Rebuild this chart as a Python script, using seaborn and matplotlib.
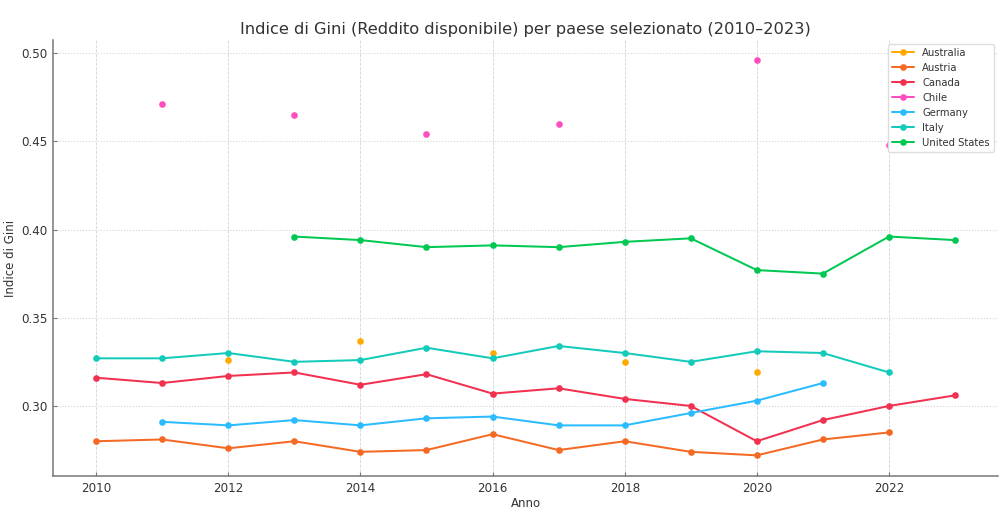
import numpy as np
import pandas as pd
import matplotlib
matplotlib.use("Agg")
import matplotlib.pyplot as plt
import seaborn as sns

years = list(range(2010, 2024))
nan = np.nan

australia = [nan, nan, 0.326, nan, 0.337, nan, 0.330, nan, 0.325, nan, 0.319, nan, nan, nan]
austria = [0.280, 0.281, 0.276, 0.280, 0.274, 0.275, 0.284, 0.275, 0.280, 0.274, 0.272, 0.281, 0.285, nan]
canada = [0.316, 0.313, 0.317, 0.319, 0.312, 0.318, 0.307, 0.310, 0.304, 0.300, 0.280, 0.292, 0.300, 0.306]
chile = [nan, 0.471, nan, 0.465, nan, 0.454, nan, 0.460, nan, nan, 0.496, nan, 0.448, nan]
germany = [nan, 0.291, 0.289, 0.292, 0.289, 0.293, 0.294, 0.289, 0.289, 0.296, 0.303, 0.313, nan, nan]
italy = [0.327, 0.327, 0.330, 0.325, 0.326, 0.333, 0.327, 0.334, 0.330, 0.325, 0.331, 0.330, 0.319, nan]
usa = [nan, nan, nan, 0.396, 0.394, 0.390, 0.391, 0.390, 0.393, 0.395, 0.377, 0.375, 0.396, 0.394]

countries = ["Australia", "Austria", "Canada", "Chile", "Germany", "Italy", "United States"]
series = [australia, austria, canada, chile, germany, italy, usa]
colors = ["#FFAA00", "#F46A25", "#F2304F", "#FF4FBF", "#2BBCFF", "#14CBBB", "#00C853"]

# long table; contiguous runs get their own unit so gaps stay unconnected
rows = []
for name, vals in zip(countries, series):
    seg = 0
    prev_nan = True
    for y, v in zip(years, vals):
        if np.isnan(v):
            prev_nan = True
            continue
        if prev_nan:
            seg += 1
            prev_nan = False
        rows.append({"Anno": y, "Gini": v, "Paese": name, "seg": f"{name}_{seg}"})
df = pd.DataFrame(rows)

sns.set_theme(style="white")
plt.rcParams['font.family'] = ['DejaVu Sans']

fig = plt.figure(figsize=(10.04, 5.16), dpi=100)
ax = fig.add_axes([0.053, 0.0775, 0.941, 0.845])

ax.grid(True, axis="x", color="#d4d4d4", linestyle="--", linewidth=0.6)
ax.grid(True, axis="y", color="#d4d4d4", linestyle=":", linewidth=0.8)
ax.set_axisbelow(True)

sns.lineplot(data=df, x="Anno", y="Gini", hue="Paese", units="seg", estimator=None,
             hue_order=countries, palette=dict(zip(countries, colors)),
             marker="o", markersize=4.8, markeredgewidth=0, linewidth=1.45,
             sort=True, ax=ax)

for s in ["top", "right"]:
    ax.spines[s].set_visible(False)
for s in ["left", "bottom"]:
    ax.spines[s].set_color("#777777")
    ax.spines[s].set_linewidth(1.1)
ax.tick_params(axis="both", which="both", direction="in", length=3, width=0.8,
               color="#777777", labelcolor="#333333", labelsize=8.6,
               left=True, bottom=True, pad=4)
ax.set_xticks([2010, 2012, 2014, 2016, 2018, 2020, 2022])
ax.set_yticks([0.30, 0.35, 0.40, 0.45, 0.50])
ax.set_yticklabels(["0.30", "0.35", "0.40", "0.45", "0.50"])
ax.set_xlim(2009.35, 2023.65)
ax.set_ylim(0.2603, 0.5074)
ax.set_xlabel("Anno", fontsize=8.5, color="#333333", labelpad=2)
ax.set_ylabel("Indice di Gini", fontsize=8.5, color="#333333", labelpad=3)
ax.set_title("Indice di Gini (Reddito disponibile) per paese selezionato (2010–2023)",
             fontsize=11.7, color="#333333", pad=4.5)

leg = ax.legend(loc="upper right", fontsize=7.2, frameon=True, framealpha=1,
                edgecolor="#dddddd", fancybox=True, borderaxespad=0.4,
                handlelength=2.2)
for t in leg.get_texts():
    t.set_color("#333333")

fig.savefig("out.png", dpi=100)
